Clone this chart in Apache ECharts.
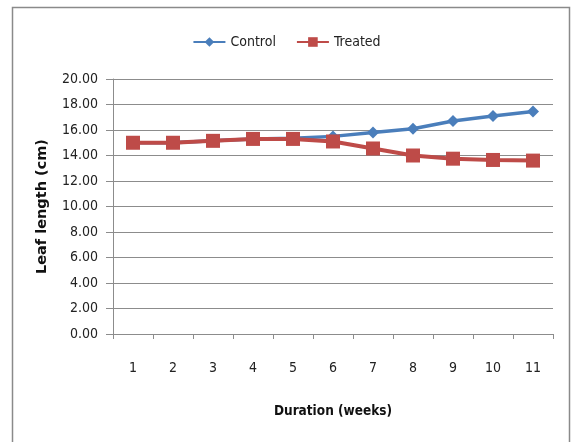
<!DOCTYPE html>
<html>
<head>
<meta charset="utf-8">
<script src="https://cdn.jsdelivr.net/npm/echarts@6/dist/echarts.min.js"></script>
<style>
html,body{margin:0;padding:0;background:#fff;}
#chart{width:573px;height:442px;}
</style>
</head>
<body>
<div id="chart"></div>
<script>
// Weeks of treatment and measured leaf length (cm)
const weeks = ['1','2','3','4','5','6','7','8','9','10','11'];
const controlLength = [15.0, 15.0, 15.15, 15.3, 15.35, 15.5, 15.8, 16.1, 16.7, 17.1, 17.45];
const treatedLength = [15.0, 15.0, 15.15, 15.3, 15.3, 15.1, 14.55, 14.0, 13.75, 13.65, 13.6];

const FONT = '"DejaVu Sans Condensed", "Liberation Sans Narrow", sans-serif';
const chart = echarts.init(document.getElementById('chart'));

chart.setOption({
  animation: false,
  backgroundColor: '#fff',
  graphic: [{
    type: 'rect',
    shape: { x: 12.5, y: 7.5, width: 557, height: 450 },
    style: { fill: 'none', stroke: '#8a8a8a', lineWidth: 1.5 }
  }],
  legend: {
    top: 30,
    left: 'center',
    itemWidth: 32,
    itemHeight: 12,
    itemGap: 20,
    textStyle: { fontFamily: FONT, fontSize: 14, color: '#222' },
    data: ['Control', 'Treated']
  },
  grid: { left: 113, right: 20, top: 79, bottom: 108 },
  xAxis: {
    type: 'category',
    data: weeks,
    boundaryGap: true,
    name: 'Duration (weeks)',
    nameLocation: 'middle',
    nameGap: 70,
    nameTextStyle: { fontFamily: FONT, fontSize: 13.5, fontWeight: 'bold', color: '#111' },
    axisLine: { lineStyle: { color: '#8c8c8c', width: 1 } },
    axisTick: { show: true, length: 5, alignWithLabel: false, lineStyle: { color: '#8c8c8c' } },
    axisLabel: { margin: 27, fontFamily: FONT, fontSize: 14, color: '#222' }
  },
  yAxis: {
    type: 'value',
    min: 0,
    max: 20,
    interval: 2,
    name: 'Leaf length (cm)',
    nameLocation: 'middle',
    nameGap: 63,
    nameTextStyle: { fontFamily: '"DejaVu Sans", sans-serif', fontSize: 14.5, fontWeight: 'bold', color: '#111' },
    axisLine: { show: true, lineStyle: { color: '#8c8c8c', width: 1 } },
    axisTick: { show: true, length: 7, lineStyle: { color: '#8c8c8c' } },
    axisLabel: {
      margin: 15,
      fontFamily: FONT,
      fontSize: 14,
      color: '#222',
      formatter: v => v.toFixed(2)
    },
    splitLine: { lineStyle: { color: '#8c8c8c', width: 1 } }
  },
  series: [
    {
      name: 'Control',
      type: 'line',
      data: controlLength,
      symbol: 'diamond',
      symbolSize: 12,
      showAllSymbol: true,
      itemStyle: { color: '#4A7EBB' },
      lineStyle: { color: '#4A7EBB', width: 3.5 },
      z: 2
    },
    {
      name: 'Treated',
      type: 'line',
      data: treatedLength,
      symbol: 'rect',
      symbolSize: 14,
      showAllSymbol: true,
      itemStyle: { color: '#BE4B48' },
      lineStyle: { color: '#BE4B48', width: 4 },
      z: 3
    }
  ]
});
</script>
</body>
</html>
